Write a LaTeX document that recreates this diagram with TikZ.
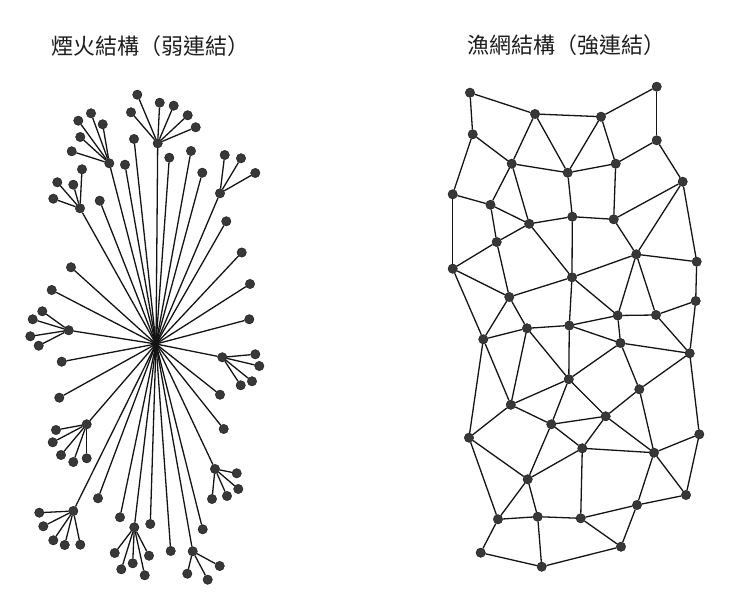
\documentclass[tikz,border=0pt]{standalone}
\usepackage{fontspec}
\newfontfamily\cjk{Noto Sans CJK TC}
\begin{document}
\begin{tikzpicture}[x=1pt,y=-1pt,
  dot/.style={circle,fill=black!78,draw=black!90,line width=0.4pt,inner sep=0pt,minimum size=9.4pt},
  edge/.style={line width=1.3pt,black!92},
  title/.style={font=\cjk\fontsize{22}{26}\selectfont,text=black!88,inner sep=0pt}]
\useasboundingbox (0,0) rectangle (740,612);
\fill[white] (0,0) rectangle (740,612);
% titles
\node[title] (t1) at (151,46) {煙火結構（弱連結）};
\node[title] (t2) at (566,45) {漁網結構（強連結）};
% ---------- left: fireworks ----------
\coordinate (hub) at (156,344);
\foreach \n/\x/\y in {
 T1/157.7/143.3, t1a/137.3/94.7, t1b/159.7/102.7, t1c/173.7/105.7, t1d/131/112.3, t1e/187.7/115.3, t1f/195.7/127.3,
 T2/109.3/163.3, t2a/91/113.3, t2b/78.3/120.7, t2c/102.7/124.3, t2d/80.3/137, t2e/71.7/151.3,
 T3/80/208.3, t3a/82/169.3, t3b/57.3/182.3, t3c/73.3/184.7, t3d/53.3/198.7,
 T4/220/193.3, t4a/224.7/155, t4b/241/158.3, t4c/255.3/173,
 L1/68.7/330.3, l1a/42.3/311.3, l1b/32.7/319.3, l1c/30.3/336.3, l1d/38.7/345.7,
 R1/222.3/357.3, r1a/255.3/354.3, r1b/259.3/366, r1c/252/381.3, r1d/240.7/385.3,
 L2/86.7/424.3, l2a/56/430, l2b/52.7/442.3, l2c/61/455, l2d/73.3/462, l2e/86.7/458.3,
 R2/215/469, r2a/236.7/473.3, r2b/238.3/489, r2c/227/496, r2d/212/499,
 L3/73.3/511, l3a/39.3/512.7, l3b/43.3/526.3, l3c/53.3/540.3, l3d/64.7/545, l3e/80.3/544.7,
 B1/134.3/527.3, b1a/114.7/553, b1b/121.3/569.3, b1c/132.7/563.3, b1d/144.7/575.3, b1e/149/555.7,
 B2/192.7/551.3, b2a/187.3/573.7, b2b/207.7/579.7, b2c/219.7/566,
 s1/134/139, s2/125/164.7, s3/99.7/200.7, s4/169.3/157.7, s5/191/151, s6/202.3/172.7,
 s7/226.3/221.3, s8/241.7/252.5, s9/250/284, s10/249.3/319.3, s11/220/394.7, s12/223.7/429,
 s13/202.7/529.3, s14/170.7/551, s15/150.3/524, s16/120/517.3, s17/98/498.3, s18/59.3/397.7,
 s19/61.7/361.7, s20/51.7/290, s21/71/267.3}
 \node[dot] (\n) at (\x,\y) {};
\foreach \h in {T1,T2,T3,T4,L1,R1,L2,R2,L3,B1,B2,s1,s2,s3,s4,s5,s6,s7,s8,s9,s10,s11,s12,s13,s14,s15,s16,s17,s18,s19,s20,s21}
 \draw[edge] (hub) -- (\h);
\foreach \h/\l in {T1/t1a,T1/t1b,T1/t1c,T1/t1d,T1/t1e,T1/t1f,
 T2/t2a,T2/t2b,T2/t2c,T2/t2d,T2/t2e, T3/t3a,T3/t3b,T3/t3c,T3/t3d, T4/t4a,T4/t4b,T4/t4c,
 L1/l1a,L1/l1b,L1/l1c,L1/l1d, R1/r1a,R1/r1b,R1/r1c,R1/r1d,
 L2/l2a,L2/l2b,L2/l2c,L2/l2d,L2/l2e, R2/r2a,R2/r2b,R2/r2c,R2/r2d,
 L3/l3a,L3/l3b,L3/l3c,L3/l3d,L3/l3e, B1/b1a,B1/b1b,B1/b1c,B1/b1d,B1/b1e, B2/b2a,B2/b2b,B2/b2c}
 \draw[edge] (\h) -- (\l);
% ---------- right: fishnet ----------
\foreach \n/\x/\y in {
 wA/470/92.7, wB/535/114, wC/601/116.7, wD/656.7/86.7, wE/472.7/134.3, wF/656.7/140.3,
 wG/511.7/163.7, wH/567.7/172.7, wI/615.7/163.7, wJ/682.7/181.7, wK/452.7/194.3, wL/490.5/204.8,
 wM/529.2/223.8, wN/572.3/216.7, wO/613.7/219.3, wP/496.7/242, wQ/452.7/268.7, wR/509.3/297,
 wS/572/277.3, wT/636.3/254.3, wU/696.7/261.7, wV/695.7/301, wW/617.7/315.5, wX/656/315,
 wY/569.3/325.5, wZ/527/328.3, wa/483.3/339.3, wb/620.5/343, wc/689.7/353.3, wd/568.8/379.2,
 we/639.3/389.3, wf/510.8/404.8, wg/605.7/416.3, wh/469/437.7, wi/551.3/424.3, wj/582.3/448.3,
 wk/654/452.7, wl/699.3/434.3, wm/527.7/479.3, wn/686/495, wo/637/505, wp/498/519.3,
 wq/537.7/516.7, wr/580.7/518.3, ws/621/546.7, wt/480.7/552.7, wu/541.7/566.7}
 \node[dot] (\n) at (\x,\y) {};
\foreach \a/\b in {A/B,A/E,B/C,C/D,D/F,E/G,E/K,B/G,B/H,C/H,C/I,G/H,H/I,I/F,F/J,G/L,G/M,K/L,L/M,L/P,M/P,
 H/N,I/O,N/M,N/O,O/J,J/T,J/U,K/Q,M/S,N/S,O/T,P/Q,P/R,Q/R,Q/a,R/a,R/S,R/Z,S/T,S/W,S/Y,T/U,T/W,T/X,
 U/V,V/X,V/c,W/X,W/Y,W/b,X/c,Y/Z,Y/b,Y/d,Z/a,Z/f,Z/d,a/f,a/h,b/c,b/d,b/e,c/e,c/l,d/f,d/g,d/i,e/g,e/k,
 f/h,f/i,i/g,i/j,g/j,g/k,j/k,k/l,l/n,k/n,k/o,h/m,h/p,i/m,j/m,m/p,m/q,j/r,p/q,q/r,r/o,o/n,r/s,o/s,
 p/t,q/u,t/u,u/s}
 \draw[edge] (w\a) -- (w\b);
\end{tikzpicture}
\end{document}
